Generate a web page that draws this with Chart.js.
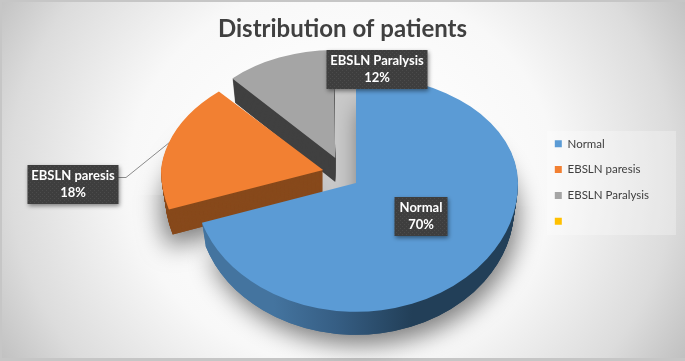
<!DOCTYPE html>
<html>
<head>
<meta charset="utf-8">
<style>
  html, body { margin: 0; padding: 0; background: #fff; }
  #wrap { width: 685px; height: 361px; }
</style>
<script src="https://cdn.jsdelivr.net/npm/chart.js@4"></script>
</head>
<body>
<div id="wrap"><canvas id="myChart" width="685" height="361"></canvas></div>
<script>
/* global Chart */

const categories = ['Normal', 'EBSLN paresis', 'EBSLN Paralysis', ''];
const percents = [70, 18, 12, 0];
const chartTitle = 'Distribution of patients';

const sliceColors = ['#5b9bd5', '#f28032', '#a5a5a5', '#ffc000'];
const sliceOffsets = [0, 140, 160, 0]; // Chart.js moves a slice by offset / 4
const sliceNudges = [[0, 0], [1, -7], [-6, 0]];
const sliceDepths = [23, 25, 24];
const sliceFarSkews = [0, 0.09, 0]; // perspective of the far half
const sliceFarWidths = [1, 1, 0.94];

// tilt of the pie: the far half is flatter than the near half
const pieCenter = { x: 356, y: 183 };
const farTilt = 0.667;
const nearTilt = 0.795;

// label boxes: centre x, top y, width
const labelBoxes = [
  { cx: 421, top: 197, w: 53 },
  { cx: 73, top: 165, w: 91 },
  { cx: 377, top: 50, w: 101 },
];

function dotPattern(ctx) {
  const tile = document.createElement('canvas');
  tile.width = 4;
  tile.height = 4;
  const t = tile.getContext('2d');
  t.fillStyle = '#3e3e3e';
  t.fillRect(0, 0, 4, 4);
  t.fillStyle = '#4b4b4b';
  t.fillRect(0, 0, 1, 1);
  t.fillRect(2, 2, 1, 1);
  return ctx.createPattern(tile, 'repeat');
}

function wallFill(ctx, index) {
  if (index === 0) {
    const g = ctx.createLinearGradient(200, 0, 340, 0);
    g.addColorStop(0, '#44749f');
    g.addColorStop(0.45, '#365e84');
    g.addColorStop(1, '#223f58');
    return g;
  }
  return index === 1 ? '#87491b' : '#404040';
}

// draw one arc with the tilt applied, shifted down by `drop`
function drawTilted(ctx, arc, index, fill, drop) {
  const half = (arc.startAngle + arc.endAngle) / 2;
  const off = arc.options.offset / 4;
  const ox = Math.cos(half) * off;
  const oy = Math.sin(half) * off;
  const grow = off * (1 - Math.sin(Math.min(Math.PI, arc.circumference)));
  const shrink = arc.outerRadius / (arc.outerRadius + grow);
  const nudge = sliceNudges[index];
  const apexX = pieCenter.x + ox + nudge[0];
  const apexY = Math.round(pieCenter.y + oy * farTilt + nudge[1]);
  const narrow = 1 - drop * 0.001;
  const saved = arc.options;
  arc.options = { ...saved, backgroundColor: fill };

  const halves = [
    [0, apexY + drop, farTilt, sliceFarSkews[index], sliceFarWidths[index]],
    [apexY + drop, 361, nearTilt, 0, 1],
  ];
  halves.forEach(([y0, y1, tilt, skew, width]) => {
    ctx.save();
    ctx.beginPath();
    ctx.rect(0, y0, 685, y1 - y0);
    ctx.clip();
    ctx.translate(apexX, apexY + drop);
    ctx.transform(1, 0, -skew, 1, 0, 0);
    ctx.scale(shrink * narrow * width, tilt * shrink);
    ctx.translate(-(arc.x + ox), -(arc.y + oy));
    arc.draw(ctx);
    ctx.restore();
  });
  arc.options = saved;
}

const backdropPlugin = {
  id: 'backdrop',
  beforeDraw(chart) {
    const { ctx } = chart;
    ctx.save();
    ctx.fillStyle = '#ffffff';
    ctx.fillRect(0, 0, 685, 361);
    ctx.translate(342, 175);
    ctx.scale(1, 0.9);
    const g = ctx.createRadialGradient(0, 0, 60, 0, 0, 400);
    g.addColorStop(0, '#ffffff');
    g.addColorStop(0.45, '#f8f8f8');
    g.addColorStop(0.8, '#dcdcdc');
    g.addColorStop(1, '#c0c0c0');
    ctx.fillStyle = g;
    ctx.fillRect(-400, -400, 800, 800);
    ctx.restore();

    ctx.fillStyle = '#c6c6c6';
    ctx.fillRect(0, 0, 685, 2);
    ctx.fillRect(0, 358, 685, 3);
    ctx.fillRect(0, 0, 2, 361);

    ctx.fillStyle = 'rgba(255,255,255,0.28)';
    ctx.fillRect(547, 131, 129, 104);
  },
};

const tiltedPiePlugin = {
  id: 'tiltedPie',
  beforeDatasetsDraw(chart) {
    const { ctx } = chart;
    const arcs = chart.getDatasetMeta(0).data;

    // leader line of the EBSLN paresis label
    ctx.strokeStyle = '#8c8c8c';
    ctx.lineWidth = 1;
    ctx.beginPath();
    ctx.moveTo(118, 177.5);
    ctx.lineTo(126, 177.5);
    ctx.lineTo(175, 138);
    ctx.stroke();

    // pale inner face between the paralysis slice and the blue slice
    ctx.fillStyle = '#c9c9c9';
    ctx.beginPath();
    ctx.moveTo(322, 85);
    ctx.lineTo(356, 85);
    ctx.lineTo(356, 186);
    ctx.lineTo(322, 196);
    ctx.closePath();
    ctx.fill();

    // back to front, so the blue slice ends up on top
    [2, 1, 0].forEach((i) => {
      const arc = arcs[i];
      const depth = sliceDepths[i];
      if (i < 2) {
        ctx.save();
        ctx.shadowColor = 'rgba(0,0,0,0.5)';
        ctx.shadowBlur = 24;
        ctx.shadowOffsetY = i === 0 ? 10 : 12;
        ctx.shadowOffsetX = i === 0 ? 4 : -4;
        drawTilted(ctx, arc, i, wallFill(ctx, i), depth);
        ctx.restore();
      }
      for (let d = depth; d > 0; d -= 1) {
        drawTilted(ctx, arc, i, wallFill(ctx, i), d);
      }
      drawTilted(ctx, arc, i, sliceColors[i], 0);
    });
    return false;
  },
  afterDraw(chart) {
    const { ctx } = chart;
    const dots = dotPattern(ctx);
    labelBoxes.forEach((box, i) => {
      ctx.save();
      ctx.shadowColor = 'rgba(0,0,0,0.45)';
      ctx.shadowBlur = 4;
      ctx.shadowOffsetX = 1;
      ctx.shadowOffsetY = 2;
      ctx.fillStyle = dots;
      ctx.fillRect(box.cx - box.w / 2, box.top, box.w, 39);
      ctx.restore();

      ctx.fillStyle = '#ffffff';
      ctx.font = 'bold 13px Lato';
      ctx.textAlign = 'center';
      ctx.textBaseline = 'middle';
      ctx.fillText(categories[i], box.cx, box.top + 11);
      ctx.fillText(`${percents[i]}%`, box.cx, box.top + 28);
    });
  },
};

function distributionChart() {
  const config = {
    type: 'pie',
    data: {
      labels: categories,
      datasets: [{
        data: percents,
        backgroundColor: sliceColors,
        offset: sliceOffsets,
        borderWidth: 0,
      }],
    },
    plugins: [backdropPlugin, tiltedPiePlugin],
    options: {
      responsive: false,
      animation: false,
      radius: 162,
      layout: { padding: { left: 26, right: 26, top: 4 } },
      plugins: {
        title: {
          display: true,
          text: chartTitle,
          color: '#404040',
          font: { family: 'Lato', size: 24, weight: 'bold' },
          padding: { top: 11, bottom: 9 },
        },
        legend: {
          position: 'right',
          labels: {
            color: '#404040',
            font: { family: 'Lato', size: 11.5 },
            boxWidth: 7,
            boxHeight: 7,
            padding: 14.3,
          },
        },
        tooltip: { enabled: false },
      },
    },
  };
  return new Chart(document.getElementById('myChart'), config);
}

distributionChart();
</script>
</body>
</html>
